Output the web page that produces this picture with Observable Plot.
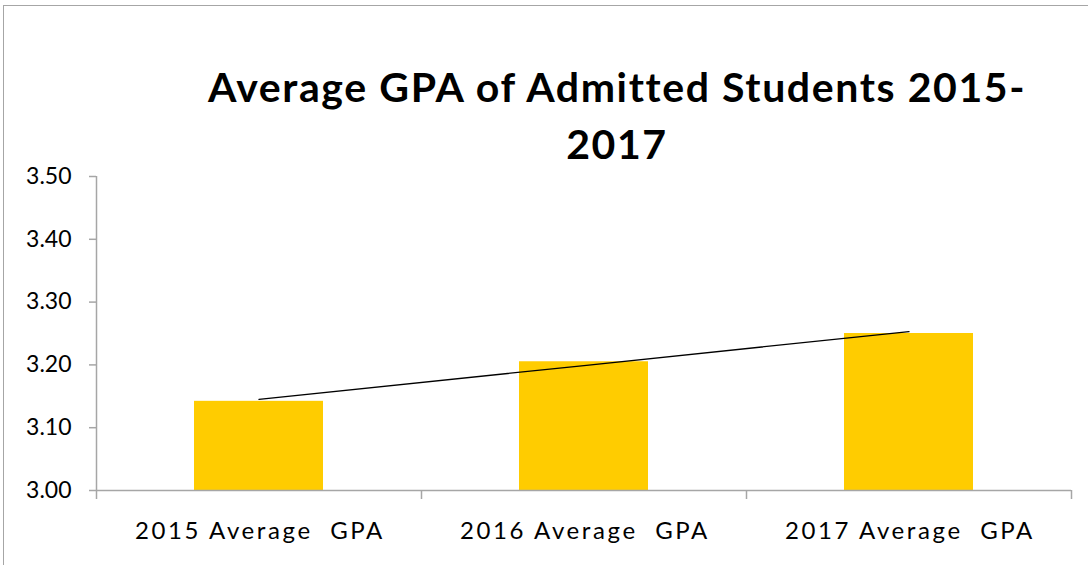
<!DOCTYPE html>
<html>
<head>
<meta charset="utf-8">
<script src="https://cdn.jsdelivr.net/npm/d3@7"></script>
<script src="https://cdn.jsdelivr.net/npm/@observablehq/plot@0.6"></script>
<style>
  html, body { margin: 0; padding: 0; background: #fff; }
  #wrap { position: relative; width: 1088px; height: 565px; overflow: hidden; background: #fff; }
  #frame { position: absolute; left: 3px; top: 5px; width: 1200px; height: 700px;
           border-left: 1.5px solid #a6a6a6; border-top: 1.5px solid #a6a6a6; }
  #title { position: absolute; left: 117px; width: 1000px; top: 58px; text-align: center;
           font-family: Lato, sans-serif; font-weight: 700; font-size: 41px; letter-spacing: 1.6px;
           line-height: 57px; color: #000; }
  #chart { position: absolute; left: 0; top: 150px; }
  #chart svg text { white-space: pre; }
  #chart svg g[aria-label="x-axis tick label"] text { letter-spacing: 2.6px; }
</style>
</head>
<body>
<div id="wrap">
  <div id="frame"></div>
  <div id="title">Average GPA of Admitted Students 2015-<br>2017</div>
  <div id="chart"></div>
</div>
<script>
// Data
const categories = ["2015 Average  GPA", "2016 Average  GPA", "2017 Average  GPA"];
const gpa = [3.142, 3.205, 3.25];
const yTicks = [3.0, 3.1, 3.2, 3.3, 3.4, 3.5];

const rows = categories.map((c, i) => ({i, category: c, gpa: gpa[i]}));

// Linear trendline (least squares over category index)
const mx = d3.mean(rows, d => d.i), my = d3.mean(rows, d => d.gpa);
const slope = d3.sum(rows, d => (d.i - mx) * (d.gpa - my)) / d3.sum(rows, d => (d.i - mx) ** 2);
const trend = rows.map(d => ({x: d.i + 0.5, y: my + slope * (d.i - mx)}));

const yMin = yTicks[0], yMax = yTicks[yTicks.length - 1];
const axisColor = "#a6a6a6";

const chart = Plot.plot({
  width: 1088,
  height: 415,
  marginLeft: 96,
  marginRight: 17,
  marginTop: 26,
  marginBottom: 75,
  style: {fontFamily: "Lato, sans-serif", fontSize: "23px", color: "#000", background: "transparent", overflow: "visible"},
  x: {type: "linear", domain: [0, categories.length]},
  y: {domain: [yMin, yMax]},
  marks: [
    Plot.rect(rows, {x1: d => d.i, x2: d => d.i + 1, y1: () => yMin, y2: "gpa", fill: "#FFCC00", insetLeft: 98, insetRight: 98}),
    Plot.line(trend, {x: "x", y: "y", stroke: "#000", strokeWidth: 1.3}),
    Plot.ruleX([0], {y1: yMin, y2: yMax, stroke: axisColor, strokeWidth: 1.5, strokeOpacity: 1}),
    Plot.ruleY([yMin], {stroke: axisColor, strokeWidth: 1.5, strokeOpacity: 1}),
    Plot.axisY({ticks: yTicks, tickFormat: d3.format(".2f"), tickSize: 7, tickPadding: 18,
                stroke: axisColor, strokeWidth: 1.5, strokeOpacity: 1, fill: "#000", label: null, fontSize: 23}),
    Plot.axisX({ticks: d3.range(categories.length + 1), tickSize: 9, tickFormat: () => "",
                stroke: axisColor, strokeWidth: 1.5, strokeOpacity: 1, label: null}),
    Plot.axisX({ticks: rows.map(d => d.i + 0.5), tickSize: 0, tickPadding: 31, dx: 1,
                tickFormat: t => categories[Math.floor(t)], fill: "#000", label: null, fontSize: 24})
  ]
});
document.getElementById("chart").appendChild(chart);
</script>
</body>
</html>
